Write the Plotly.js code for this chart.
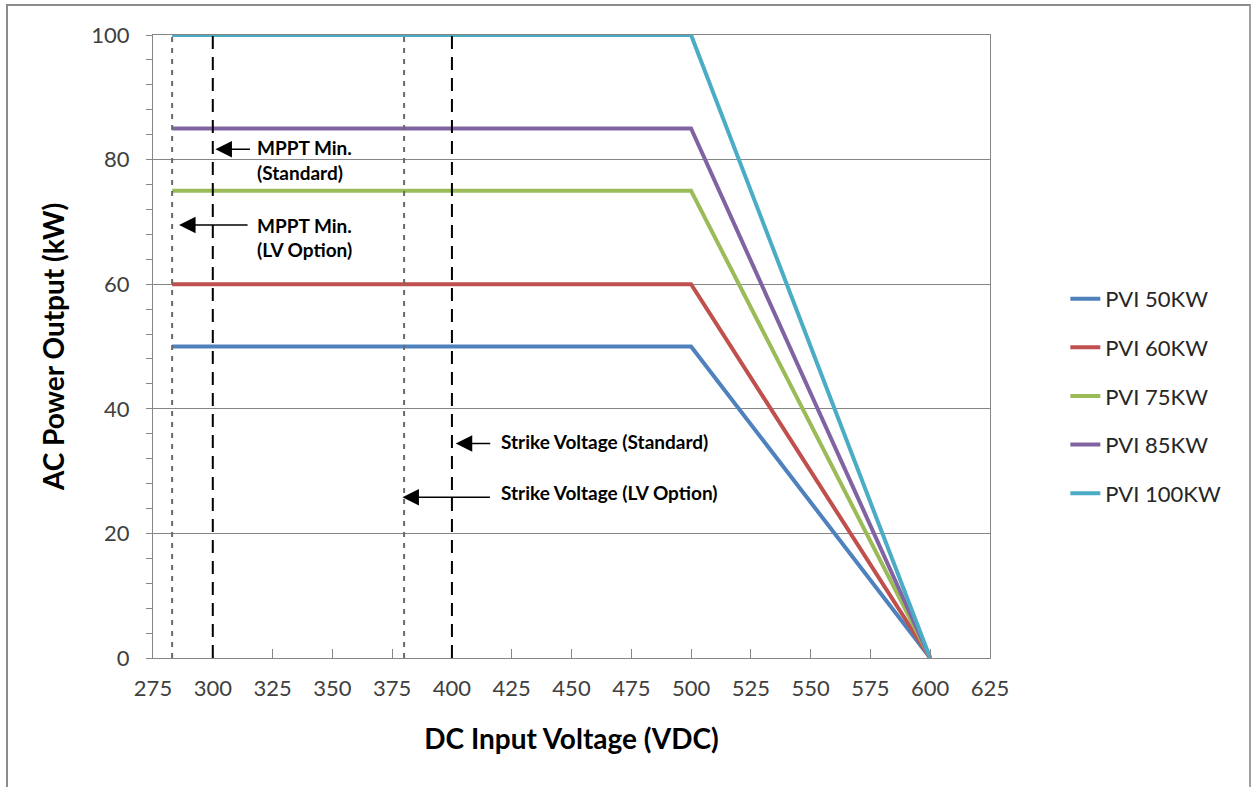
<!DOCTYPE html>
<html>
<head>
<meta charset="utf-8">
<script src="https://cdn.plot.ly/plotly-3.0.1.min.js"></script>
<style>
  html, body { margin: 0; padding: 0; background: #fff; overflow: hidden; }
  #frame { position: absolute; left: 6px; top: 4px; width: 1245px; height: 800px;
           border-left: 2px solid #8c8c8c; border-top: 2px solid #8c8c8c; border-right: 2px solid #a0a0a0; box-sizing: border-box; pointer-events: none; z-index: 5; }
  #chart { position: absolute; left: 0; top: 0; width: 1255px; height: 787px; }
</style>
</head>
<body>
<div id="chart"></div>
<div id="frame"></div>
<script>
// ---- data ----
const voltage = [283, 500, 600];            // DC input voltage breakpoints (VDC)
const pvi50  = [50, 50, 0];
const pvi60  = [60, 60, 0];
const pvi75  = [75, 75, 0];
const pvi85  = [85, 85, 0];
const pvi100 = [100, 100, 0];
const seriesNames = ['PVI 50KW', 'PVI 60KW', 'PVI 75KW', 'PVI 85KW', 'PVI 100KW'];
const seriesValues = [pvi50, pvi60, pvi75, pvi85, pvi100];
const seriesColors = ['#4F81BD', '#C0504D', '#9BBB59', '#8064A2', '#4BACC6'];
const lvLines = [283, 380];        // MPPT min (LV option), strike voltage (LV option)
const stdLines = [300, 400];       // MPPT min (standard), strike voltage (standard)
const xTicks = [275, 300, 325, 350, 375, 400, 425, 450, 475, 500, 525, 550, 575, 600, 625];
const yTicks = [0, 20, 40, 60, 80, 100];

const FONT = 'Lato, "Open Sans", sans-serif';

const traces = seriesNames.map((name, i) => ({
  type: 'scatter', mode: 'lines', name: name,
  x: voltage, y: seriesValues[i],
  legendgroup: 'g' + i,
  line: { color: seriesColors[i], width: 4 },
  hoverinfo: 'x+y+name'
}));

const shapes = [];
lvLines.forEach(v => shapes.push({
  type: 'line', xref: 'x', yref: 'y', x0: v, x1: v, y0: 0, y1: 100,
  line: { color: '#6a6a6a', width: 2, dash: '5px,6px' }
}));
stdLines.forEach(v => shapes.push({
  type: 'line', xref: 'x', yref: 'y', x0: v, x1: v, y0: 0, y1: 100,
  line: { color: '#000000', width: 2, dash: '13px,8px' }
}));

const annFont = { family: FONT, size: 19, color: '#000', weight: 'bold' };
function arrow(x, y, ax) {
  return { x: x, y: y, xref: 'x', yref: 'y', text: '', showarrow: true,
           ax: ax, ay: 0, arrowhead: 2, arrowsize: 2.2, arrowwidth: 1.5, arrowcolor: '#000' };
}
function label(x, y, t) {
  return { x: x, y: y, xref: 'x', yref: 'y', text: '<b>' + t + '</b>', showarrow: false,
           xanchor: 'left', yanchor: 'middle', font: annFont };
}
const annotations = [
  arrow(301.1, 81.65, 36),
  label(317.5, 81.9, 'MPPT Min.'),
  label(317.5, 77.85, '(Standard)'),
  arrow(285.9, 69.5, 70),
  label(317.5, 69.5, 'MPPT Min.'),
  label(317.5, 65.5, '(LV Option)'),
  arrow(401.6, 34.45, 36),
  label(419.5, 34.8, 'Strike Voltage (Standard)'),
  arrow(379.3, 25.8, 89),
  label(419.5, 26.5, 'Strike Voltage (LV Option)')
];

const layout = {
  width: 1255, height: 787,
  margin: { l: 152.5, r: 265, t: 35, b: 129 },
  paper_bgcolor: '#fff', plot_bgcolor: '#fff',
  font: { family: FONT, color: '#404040' },
  showlegend: true,
  legend: {
    x: 1.09, xanchor: 'left', y: 0.61, yanchor: 'top',
    font: { family: FONT, size: 22, color: '#262626' },
    traceorder: 'grouped', tracegroupgap: 17,
    bgcolor: 'rgba(0,0,0,0)'
  },
  xaxis: {
    range: [275, 625], tickmode: 'array', tickvals: xTicks, ticktext: xTicks.map(String),
    ticks: 'inside', ticklen: 9, tickcolor: '#868686', tickwidth: 1,
    showline: true, linecolor: '#868686', linewidth: 1, mirror: true,
    showgrid: false, zeroline: false,
    tickfont: { family: FONT, size: 22, color: '#404040' },
    ticklabelstandoff: 11,
    title: { text: '<b>DC Input Voltage (VDC)</b>', font: { family: FONT, size: 28, color: '#000' }, standoff: 28 }
  },
  yaxis: {
    range: [0, 100], tickmode: 'array', tickvals: yTicks, ticktext: yTicks.map(String),
    ticks: 'outside', ticklen: 6, tickcolor: '#868686', tickwidth: 1,
    minor: { dtick: 4, tick0: 0, ticks: 'outside', ticklen: 6, tickcolor: '#868686', showgrid: false },
    showline: true, linecolor: '#868686', linewidth: 1, mirror: true,
    showgrid: true, gridcolor: '#868686', gridwidth: 1, zeroline: false,
    tickfont: { family: FONT, size: 22, color: '#404040' },
    ticklabelstandoff: 12,
    title: { text: '<b>AC Power Output (kW)</b>', font: { family: FONT, size: 28, color: '#000' }, standoff: 18 }
  },
  shapes: shapes,
  annotations: annotations
};

Plotly.newPlot('chart', traces, layout, { displayModeBar: false, staticPlot: false });
</script>
</body>
</html>
